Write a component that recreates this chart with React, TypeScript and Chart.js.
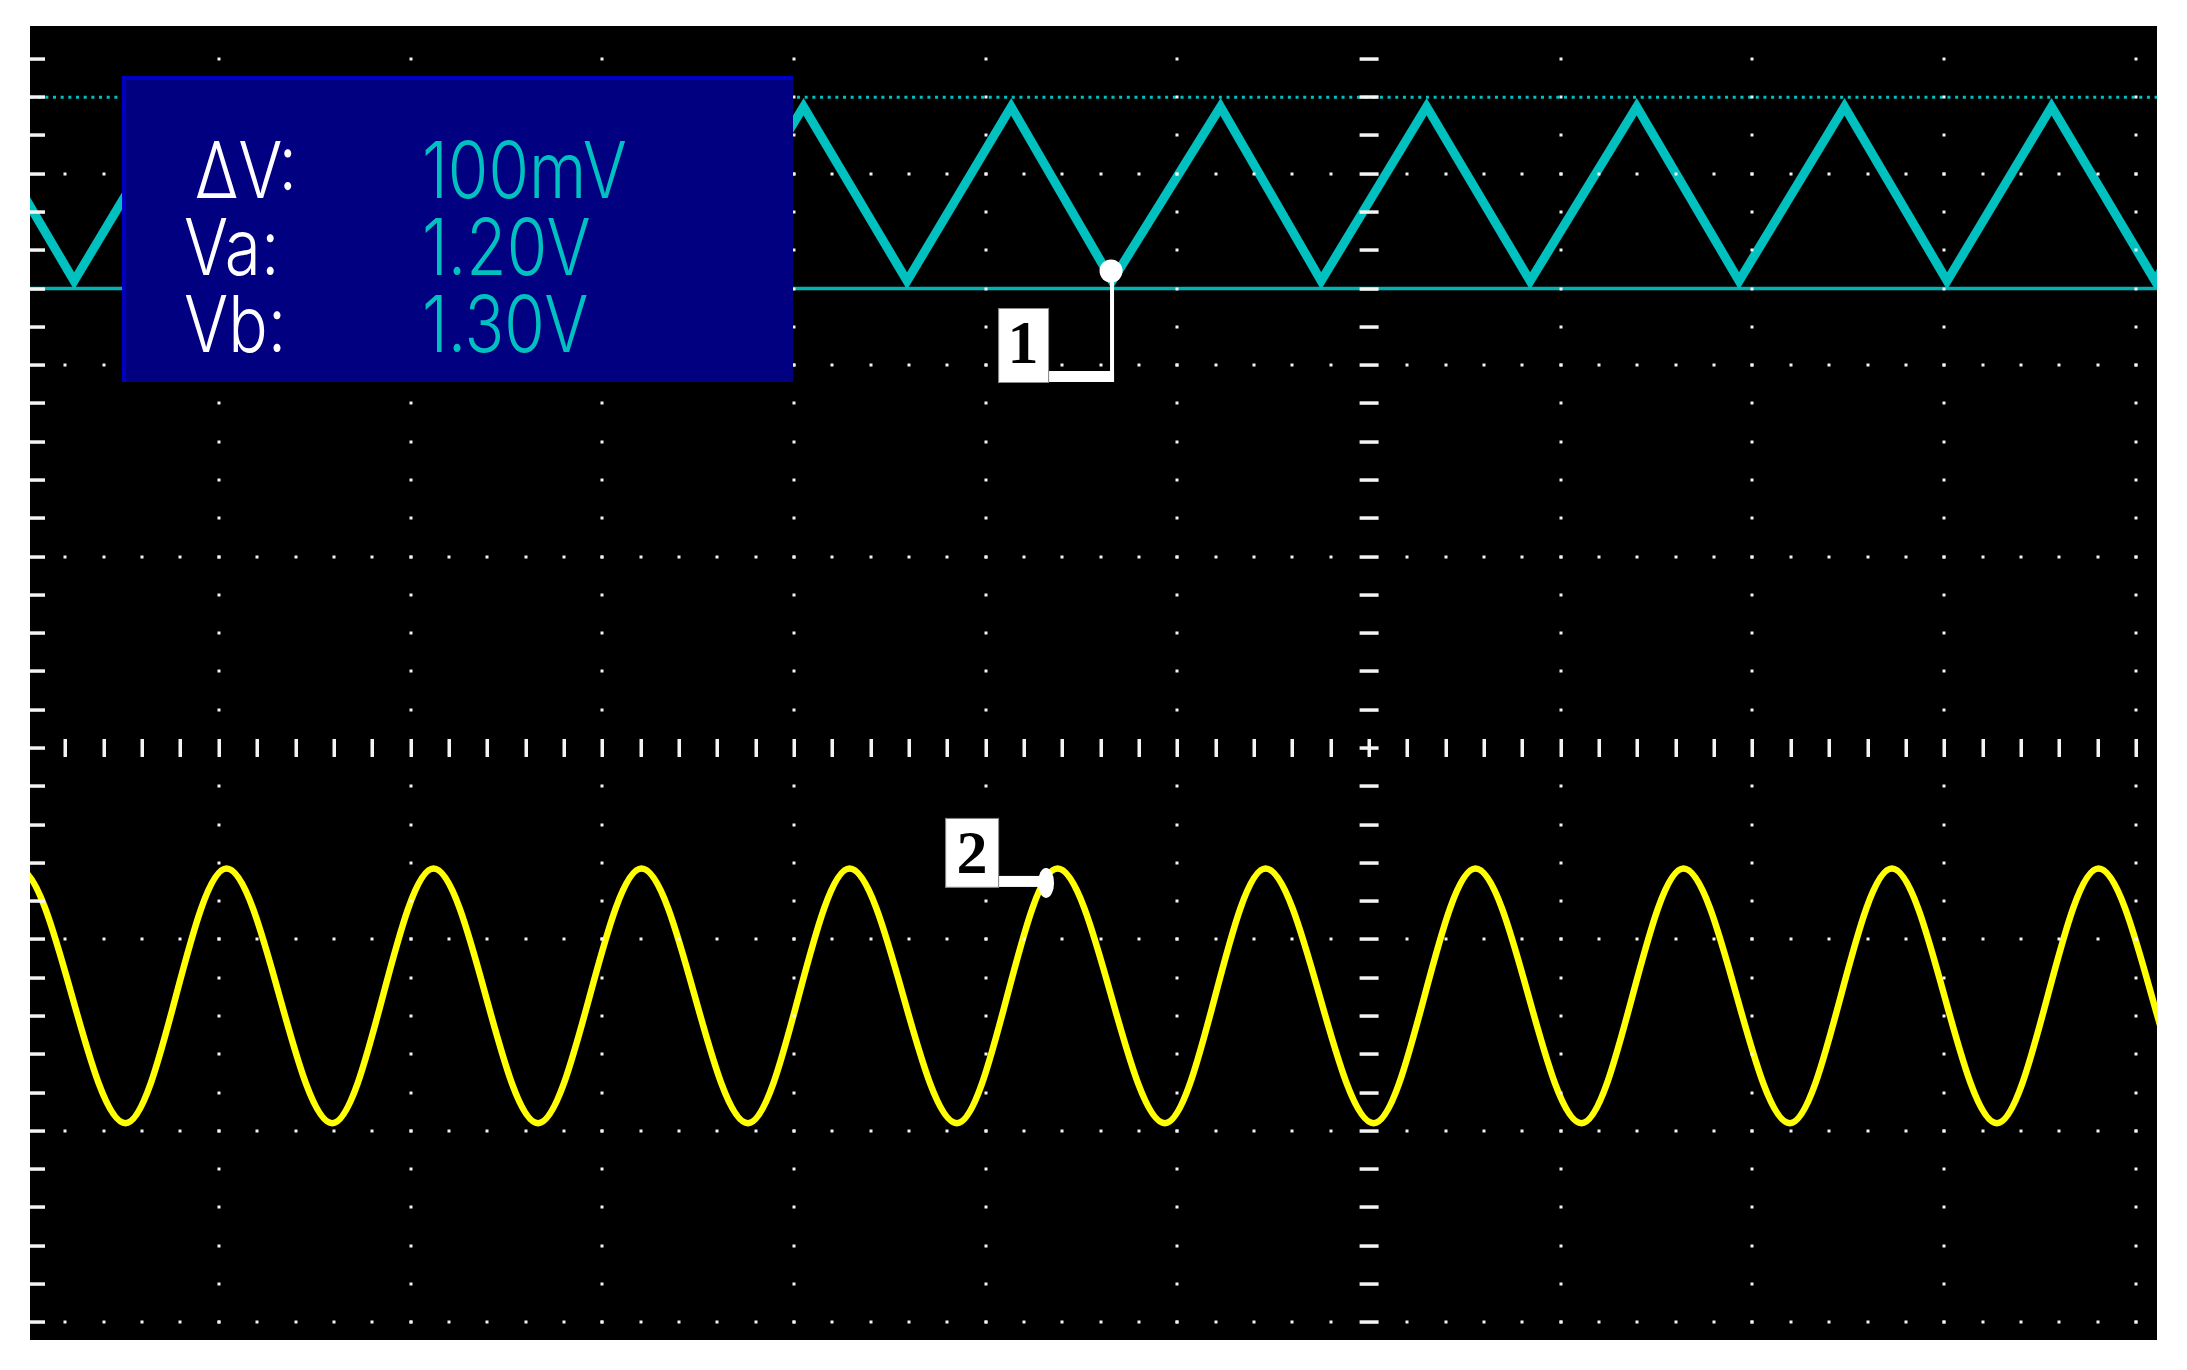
import React, { useEffect, useRef } from "react";
import { Chart, registerables } from "chart.js";

Chart.register(...registerables);

const W = 2187;
const H = 1370;

// Screen extents, in graticule divisions
const X_MIN = 0.015;
const X_MAX = 11.11;
const Y_MIN = -3.093;
const Y_MAX = 3.772;
const CENTER_X = 7;

// Channel 1 (cyan triangle) – vertex positions
const triPeakX = [-0.29, 0.79, 1.875, 2.96, 4.05, 5.133, 6.225, 7.3, 8.396, 9.48, 10.56, 11.64];
const triTroughX = [-0.83, 0.245, 1.33, 2.415, 3.5, 4.59, 5.66, 6.75, 7.84, 8.93, 10.015, 11.1];
const triPeakY = 3.35;
const triTroughY = 2.44;

// Channel 2 (yellow sine) – extremum positions
const sinePeakX = [-0.045, 1.04, 2.12, 3.205, 4.29, 5.375, 6.46, 7.555, 8.64, 9.727, 10.805, 11.89];
const sineTroughX = [-0.585, 0.513, 1.592, 2.665, 3.76, 4.85, 5.935, 7.024, 8.108, 9.195, 10.275, 11.36];
const sinePeakY = -0.63;
const sineTroughY = -1.96;

// Cursors (divisions)
const cursorVb = 3.4;
const cursorVa = 2.4;

// Readout
const readoutLabels = ["ΔV:", "Va:", "Vb:"];
const readoutValues = ["100mV", "1.20V", "1.30V"];
const readoutBox = { x0: 0.495, x1: 3.995, y0: 3.511, y1: 1.912 };

// Channel markers: anchor points (divisions)
const marker1 = { label: "1", x: 5.654, y: 2.492 };
const marker2 = { label: "2", x: 5.315, y: -0.705 };

function mergeExtrema(peaks: number[], troughs: number[], py: number, ty: number) {
  const pts = [
    ...peaks.map((x) => ({ x, y: py })),
    ...troughs.map((x) => ({ x, y: ty })),
  ];
  pts.sort((a, b) => a.x - b.x);
  return pts;
}

const scopePlugin = {
  id: "scope",
  beforeDraw(chart: any) {
    const { ctx, chartArea: a } = chart;
    ctx.save();
    ctx.fillStyle = "#ffffff";
    ctx.fillRect(0, 0, chart.width, chart.height);
    ctx.fillStyle = "#000000";
    ctx.fillRect(a.left, a.top, a.right - a.left, a.bottom - a.top);
    ctx.restore();
  },
  afterDatasetsDraw(chart: any) {
    const { ctx, chartArea: a, scales } = chart;
    const px = (v: number) => scales.x.getPixelForValue(v);
    const py = (v: number) => scales.y.getPixelForValue(v);
    ctx.save();
    ctx.beginPath();
    ctx.rect(a.left, a.top, a.right - a.left, a.bottom - a.top);
    ctx.clip();

    ctx.fillStyle = "#f4f4f4";
    const dot = (x: number, y: number) => ctx.fillRect(Math.round(x) - 1.5, Math.round(y) - 1.5, 3, 3);
    // columns of dots
    for (let i = 1; i <= 11; i++) {
      if (i === CENTER_X) continue;
      for (let k = -15; k <= 18; k++) {
        if (k === 0) continue;
        dot(px(i), py(k / 5));
      }
    }
    // rows of dots
    for (const j of [-3, -2, -1, 1, 2, 3]) {
      for (let k = 1; k <= 55; k++) {
        if (k === CENTER_X * 5) continue;
        dot(px(k / 5), py(j));
      }
    }
    // horizontal centre axis ticks
    for (let k = 1; k <= 55; k++) {
      const x = px(k / 5);
      ctx.fillRect(Math.round(x) - 1.5, py(0) - 9, 3.5, 18);
    }
    // vertical centre axis ticks + left edge ticks
    for (let k = -15; k <= 18; k++) {
      const y = py(k / 5);
      ctx.fillRect(px(CENTER_X) - 9.5, Math.round(y) - 1.7, 19, 3.5);
      ctx.fillRect(a.left, Math.round(y) - 1.7, 15, 3.5);
    }
    ctx.restore();

    // readout box
    ctx.save();
    const bx0 = px(readoutBox.x0);
    const bx1 = px(readoutBox.x1);
    const by0 = py(readoutBox.y0);
    const by1 = py(readoutBox.y1);
    ctx.fillStyle = "#000080";
    ctx.fillRect(bx0, by0, bx1 - bx0, by1 - by0);
    ctx.fillStyle = "#0000c4";
    ctx.fillRect(bx0, by0, bx1 - bx0, 4);
    ctx.fillRect(bx0, by0, 4, by1 - by0);

    ctx.font = "300 60px Inter, 'Open Sans', Roboto, 'DejaVu Sans', sans-serif";
    ctx.textBaseline = "alphabetic";
    ctx.textAlign = "left";
    const wRef = ctx.measureText(readoutValues[0]).width;
    const capRef = ctx.measureText("V").actualBoundingBoxAscent || 43;
    const sx = 205 / wRef;
    const sy = 57 / capRef;
    const labelDx = [73, 62, 62];
    const baseDy = [122, 199, 276];
    for (let i = 0; i < 3; i++) {
      ctx.save();
      ctx.translate(bx0 + labelDx[i], by0 + baseDy[i]);
      ctx.scale(sx, sy);
      ctx.fillStyle = "#ffffff";
      ctx.fillText(readoutLabels[i], 0, 0);
      ctx.restore();
      ctx.save();
      ctx.translate(bx0 + 300, by0 + baseDy[i]);
      ctx.scale(sx, sy);
      ctx.fillStyle = "#00c0c0";
      ctx.fillText(readoutValues[i], 0, 0);
      ctx.restore();
    }
    ctx.restore();

    // marker 1
    ctx.save();
    {
      const ax = px(marker1.x);
      const ay = py(marker1.y);
      ctx.fillStyle = "#ffffff";
      ctx.fillRect(ax - 112, ay + 38, 50, 73);
      ctx.fillRect(ax - 62, ay + 100, 65, 11);
      ctx.fillRect(ax - 1, ay + 8, 4, 103);
      ctx.beginPath();
      ctx.arc(ax, ay, 11.5, 0, Math.PI * 2);
      ctx.fill();
      ctx.strokeStyle = "#8a8a8a";
      ctx.lineWidth = 1;
      ctx.strokeRect(ax - 112.5, ay + 37.5, 50, 74);
      ctx.fillStyle = "#000000";
      ctx.font = "bold 62px 'Liberation Serif', 'DejaVu Serif', serif";
      ctx.textAlign = "center";
      ctx.textBaseline = "alphabetic";
      ctx.fillText(marker1.label, ax - 88, ay + 92);
    }
    ctx.restore();

    // marker 2
    ctx.save();
    {
      const ax = px(marker2.x);
      const ay = py(marker2.y);
      ctx.fillStyle = "#ffffff";
      ctx.fillRect(ax - 100, ay - 64, 53, 68);
      ctx.fillRect(ax - 47, ay - 7, 42, 11);
      ctx.beginPath();
      ctx.ellipse(ax, ay, 8, 15, 0, 0, Math.PI * 2);
      ctx.fill();
      ctx.strokeStyle = "#8a8a8a";
      ctx.lineWidth = 1;
      ctx.strokeRect(ax - 100.5, ay - 64.5, 53, 69);
      ctx.fillStyle = "#000000";
      ctx.font = "bold 62px 'Liberation Serif', 'DejaVu Serif', serif";
      ctx.textAlign = "center";
      ctx.textBaseline = "alphabetic";
      ctx.fillText(marker2.label, ax - 74, ay - 10);
    }
    ctx.restore();
  },
};

export default function App() {
  const canvasRef = useRef<HTMLCanvasElement | null>(null);

  useEffect(() => {
    const canvas = canvasRef.current;
    if (!canvas) return;
    const tri = mergeExtrema(triPeakX, triTroughX, triPeakY, triTroughY);
    const sine = mergeExtrema(sinePeakX, sineTroughX, sinePeakY, sineTroughY);

    const chart = new Chart(canvas, {
      type: "line",
      data: {
        datasets: [
          {
            label: "CH2",
            data: sine,
            borderColor: "#ffff00",
            borderWidth: 6.5,
            cubicInterpolationMode: "monotone",
            pointRadius: 0,
            fill: false,
            clip: 0,
          },
          {
            label: "CH1",
            data: tri,
            borderColor: "#00c0c0",
            borderWidth: 9,
            tension: 0,
            pointRadius: 0,
            fill: false,
            clip: 0,
          },
          {
            label: "Va",
            data: [
              { x: X_MIN, y: cursorVa },
              { x: X_MAX, y: cursorVa },
            ],
            borderColor: "#00b4b4",
            borderWidth: 3.5,
            pointRadius: 0,
            fill: false,
            clip: 0,
          },
          {
            label: "Vb",
            data: [
              { x: X_MIN, y: cursorVb },
              { x: X_MAX, y: cursorVb },
            ],
            borderColor: "#00c0c0",
            borderWidth: 3,
            borderDash: [3, 4.67],
            pointRadius: 0,
            fill: false,
            clip: 0,
          },
        ],
      } as any,
      options: {
        responsive: false,
        animation: false,
        devicePixelRatio: 1,
        layout: { padding: { left: 30, top: 26, right: 30, bottom: 30 } },
        plugins: { legend: { display: false }, tooltip: { enabled: false } },
        events: [],
        scales: {
          x: { type: "linear", min: X_MIN, max: X_MAX, display: false },
          y: { type: "linear", min: Y_MIN, max: Y_MAX, display: false },
        },
      } as any,
      plugins: [scopePlugin],
    });
    return () => chart.destroy();
  }, []);

  return (
    <div style={{ position: "absolute", left: 0, top: 0, width: W, height: H, background: "#ffffff" }}>
      <canvas ref={canvasRef} width={W} height={H} style={{ display: "block", width: W, height: H }} />
    </div>
  );
}
